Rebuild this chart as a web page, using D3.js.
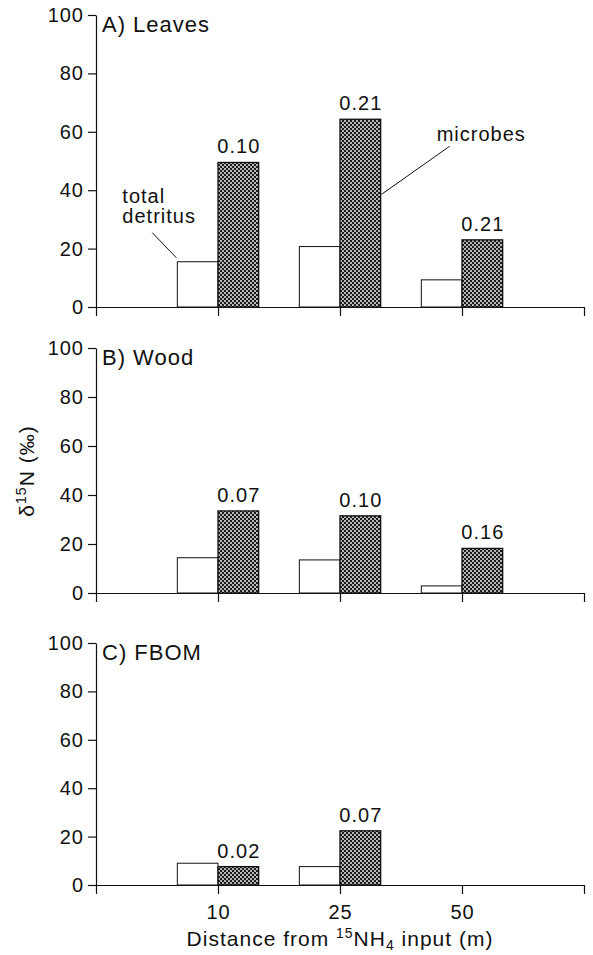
<!DOCTYPE html>
<html><head><meta charset="utf-8">
<script src="https://cdn.jsdelivr.net/npm/d3@7"></script>
<style>
body{margin:0;background:#fff;}
svg text{font-family:"Liberation Sans",Arial,Helvetica,sans-serif;fill:#111;letter-spacing:1px;}
</style></head><body>
<svg id="chart" width="593" height="955"></svg>
<script>
const categories = ["10", "25", "50"];
const yTicks = [0, 20, 40, 60, 80, 100];
const panelTitles = ["A) Leaves", "B) Wood", "C) FBOM"];

const leavesDetritus = [15.5, 20.7, 9.3];
const leavesMicrobes = [49.5, 64.3, 23.0];
const leavesRatio = ["0.10", "0.21", "0.21"];

const woodDetritus = [14.4, 13.5, 2.9];
const woodMicrobes = [33.5, 31.5, 18.2];
const woodRatio = ["0.07", "0.10", "0.16"];

const fbomDetritus = [9.0, 7.6, null];
const fbomMicrobes = [7.6, 22.4, null];
const fbomRatio = ["0.02", "0.07", null];

const panels = [
  {title: panelTitles[0], det: leavesDetritus, mic: leavesMicrobes, ratio: leavesRatio, top: 15, bottom: 307},
  {title: panelTitles[1], det: woodDetritus, mic: woodMicrobes, ratio: woodRatio, top: 348, bottom: 593},
  {title: panelTitles[2], det: fbomDetritus, mic: fbomMicrobes, ratio: fbomRatio, top: 643, bottom: 885}
];

const svg = d3.select("#chart");
const defs = svg.append("defs");
const pat = defs.append("pattern").attr("id", "hatch").attr("patternUnits", "userSpaceOnUse")
  .attr("width", 4).attr("height", 4);
pat.append("rect").attr("width", 4).attr("height", 4).attr("fill", "#1c1c1c");
pat.append("circle").attr("cx", 1).attr("cy", 1).attr("r", 0.9).attr("fill", "#fff");
pat.append("circle").attr("cx", 3).attr("cy", 3).attr("r", 0.9).attr("fill", "#fff");

const x = d3.scaleLinear().domain([0, 4]).range([96, 584]);
const bw = (x(1) - x(0)) / 3;

panels.forEach((p, pi) => {
  const y = d3.scaleLinear().domain([0, 100]).range([p.bottom, p.top]);
  const g = svg.append("g");
  const isLast = pi === panels.length - 1;

  const rows = categories.map((c, i) => ({i, det: p.det[i], mic: p.mic[i], ratio: p.ratio[i]}))
    .filter(d => d.det != null);
  g.selectAll("rect.det").data(rows).join("rect").attr("class", "det")
    .attr("x", d => x(d.i + 1) - bw).attr("width", bw)
    .attr("y", d => y(d.det)).attr("height", d => y(0) - y(d.det))
    .attr("fill", "#fff").attr("stroke", "#111").attr("stroke-width", 1);
  g.selectAll("rect.mic").data(rows).join("rect").attr("class", "mic")
    .attr("x", d => x(d.i + 1)).attr("width", bw)
    .attr("y", d => y(d.mic)).attr("height", d => y(0) - y(d.mic))
    .attr("fill", "url(#hatch)").attr("stroke", "#111").attr("stroke-width", 1.3);
  g.selectAll("text.ratio").data(rows).join("text").attr("class", "ratio")
    .attr("x", d => x(d.i + 1) + bw / 2 + 0.5).attr("y", d => y(d.mic) - 9)
    .attr("text-anchor", "middle").attr("font-size", 20).text(d => d.ratio);

  const yAxis = d3.axisLeft(y).tickValues(yTicks).tickSize(8).tickSizeOuter(0).tickPadding(4);
  const ya = g.append("g").attr("transform", `translate(${x(0)},0)`).call(yAxis);
  ya.selectAll("text").attr("font-size", 20).attr("fill", "#111");

  const xAxis = d3.axisBottom(x).tickValues([0, 1, 2, 3, 4]).tickSize(9).tickSizeOuter(0).tickPadding(11)
    .tickFormat(d => (isLast && d >= 1 && d <= 3) ? categories[d - 1] : "");
  const xa = g.append("g").attr("transform", `translate(0,${y(0)})`).call(xAxis);
  xa.selectAll("text").attr("font-size", 20).attr("fill", "#111");

  svg.selectAll("path.domain, .tick line").attr("stroke", "#111").attr("stroke-width", 1.2);

  g.append("text").attr("x", x(0) + 6).attr("y", y(100) + 17).attr("font-size", 22)
    .text(p.title);

  if (pi === 0) {
    const left = x(1) - bw, top = y(p.det[0]);
    g.append("line").attr("x1", left - 25).attr("y1", top - 29).attr("x2", left - 1).attr("y2", top - 4)
      .attr("stroke", "#111").attr("stroke-width", 1);
    g.append("text").attr("x", left - 55).attr("y", top - 59).attr("font-size", 20).text("total");
    g.append("text").attr("x", left - 55).attr("y", top - 39).attr("font-size", 20).text("detritus");
    const right = x(2) + bw, mtop = y(p.mic[1]);
    g.append("line").attr("x1", right + 69).attr("y1", mtop + 27).attr("x2", right + 1).attr("y2", mtop + 75)
      .attr("stroke", "#111").attr("stroke-width", 1);
    g.append("text").attr("x", right + 56).attr("y", mtop + 22).attr("font-size", 20).text("microbes");
  }
});

const yl = svg.append("text").attr("transform", "translate(34,471) rotate(-90)")
  .attr("text-anchor", "middle").attr("font-size", 21);
yl.append("tspan").text("δ");
yl.append("tspan").attr("font-size", 14).attr("dy", -8).text("15");
yl.append("tspan").attr("dy", 8).text("N (‰)");

const xt = svg.append("text").attr("x", (x(0) + x(4)) / 2).attr("y", 946)
  .attr("text-anchor", "middle").attr("font-size", 21);
xt.append("tspan").text("Distance from ");
xt.append("tspan").attr("font-size", 14).attr("dy", -8).text("15");
xt.append("tspan").attr("dy", 8).text("NH");
xt.append("tspan").attr("font-size", 14).attr("dy", 4).text("4");
xt.append("tspan").attr("dy", -4).text(" input (m)");
</script>
</body></html>
